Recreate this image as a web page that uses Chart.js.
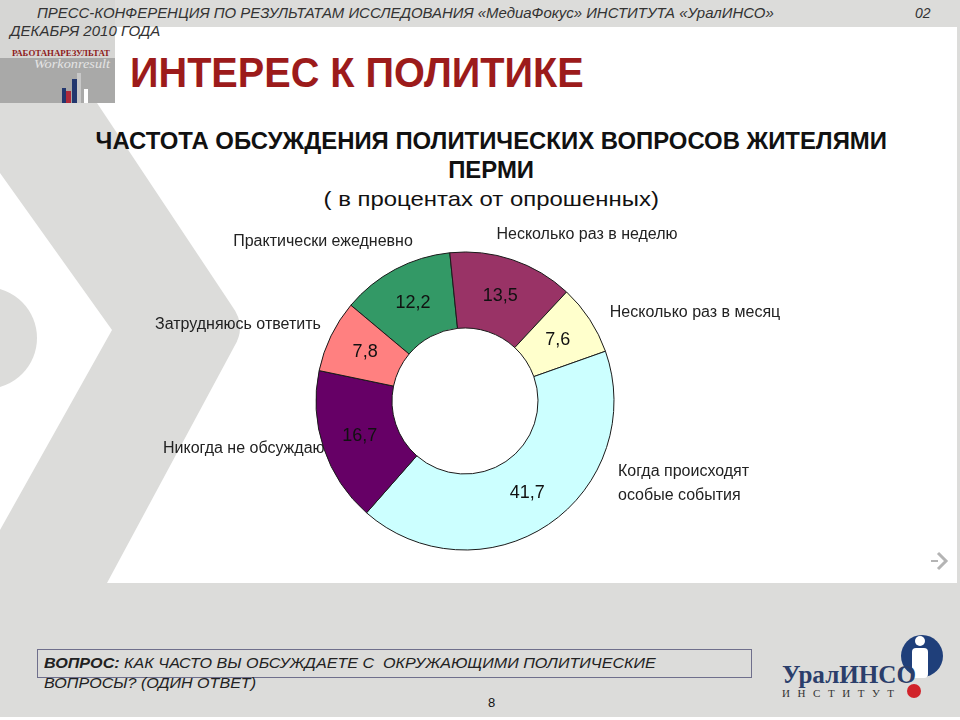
<!DOCTYPE html>
<html lang="ru">
<head>
<meta charset="utf-8">
<title>Интерес к политике</title>
<script src="https://cdn.jsdelivr.net/npm/chart.js@4/dist/chart.umd.min.js"></script>
<style>
  html, body { margin: 0; padding: 0; }
  body { width: 960px; height: 720px; position: relative; overflow: hidden; background: #fff;
         font-family: "Liberation Sans", Arial, sans-serif; color: #222; }
  .bg { position: absolute; left: 0; top: 0; }
  .abs { position: absolute; white-space: nowrap; line-height: 1; }
  .fit { display: inline-block; transform-origin: left center; }
  .mid { left: 0; width: 982px; text-align: center; }
  .mid .fit { transform-origin: center center; }
  #chartBox { position: absolute; left: 140px; top: 215px; width: 660px; height: 355px; }
  #question { position: absolute; left: 37px; top: 649px; width: 713px; height: 27px; border: 1px solid #6f6f8c; }
</style>
</head>
<body>

<svg class="bg" width="960" height="720" viewBox="0 0 960 720">
  <rect width="960" height="720" fill="#dcdcda"/>
  <rect x="0" y="27" width="957" height="556" fill="#fff"/>
  <!-- серый шеврон слева -->
  <path d="M0,103 L97,103 L232,306 Q247,326 234,347 L107,583 L0,583 L0,530 L112,330 L0,173 Z" fill="#dcdcda"/>
  <circle cx="-14" cy="338" r="51" fill="#dcdcda"/>
  <rect x="0" y="717" width="960" height="3" fill="#fff"/>
  <!-- логотип вверху слева -->
  <rect x="0" y="0" width="115" height="103" fill="#d6d6d4"/>
  <rect x="0" y="58" width="115" height="45" fill="#a9a9a8"/>
  <text x="12" y="56" font-family="Liberation Serif" font-weight="bold" font-size="9" fill="#8e1b1b"
        textLength="98" lengthAdjust="spacingAndGlyphs">РАБОТАНАРЕЗУЛЬТАТ</text>
  <text x="34" y="68" font-family="Liberation Serif" font-style="italic" font-size="12" fill="#e4e4e4"
        textLength="76" lengthAdjust="spacingAndGlyphs">Workonresult</text>
  <rect x="62" y="88" width="4" height="15" fill="#23376e"/>
  <rect x="66" y="91" width="5" height="12" fill="#b02a3a"/>
  <rect x="72" y="79" width="5" height="24" fill="#23376e"/>
  <rect x="77" y="73" width="4" height="30" fill="#c8c8c8"/>
  <rect x="84" y="89" width="4" height="14" fill="#ffffff"/>
  <!-- стрелка справа -->
  <polyline points="938,553 946,561 938,569" fill="none" stroke="#b4b4b4" stroke-width="3"/>
  <line x1="931" y1="561" x2="938" y2="561" stroke="#b4b4b4" stroke-width="2"/>
  <!-- логотип УралИНСО -->
  <circle cx="922" cy="656" r="21" fill="#1f3f7a"/>
  <circle cx="920" cy="641" r="5" fill="#fff"/>
  <rect x="912" y="648" width="16" height="30" rx="4" fill="#fff"/>
  <text x="782" y="683" font-family="Liberation Serif" font-weight="bold" font-size="26" fill="#2b3e6b"
        textLength="134" lengthAdjust="spacingAndGlyphs">УралИНСО</text>
  <text x="782" y="697" font-family="Liberation Serif" font-size="11" fill="#333"
        textLength="112" lengthAdjust="spacing">ИНСТИТУТ</text>
  <circle cx="914" cy="691" r="7" fill="#d1232a"/>
</svg>

<div class="abs" style="left:37px; top:6px; font-size:14px; font-style:italic; color:#333;">
  <span class="fit" id="hdr1">ПРЕСС-КОНФЕРЕНЦИЯ ПО РЕЗУЛЬТАТАМ ИССЛЕДОВАНИЯ «МедиаФокус» ИНСТИТУТА «УралИНСО»</span>
</div>
<div class="abs" style="left:915px; top:6px; font-size:14px; font-style:italic; color:#333;">02</div>
<div class="abs" style="left:10px; top:24px; font-size:14px; font-style:italic; color:#333;">
  <span class="fit" id="hdr2">ДЕКАБРЯ 2010 ГОДА</span>
</div>

<div class="abs" style="left:130px; top:52px; font-size:42px; font-weight:bold; color:#9c1b1b;">
  <span class="fit" id="slideTitle">ИНТЕРЕС К ПОЛИТИКЕ</span>
</div>

<div class="abs mid" style="top:129px; font-size:24px; font-weight:bold; color:#111;">
  <span class="fit" id="chartTitle">ЧАСТОТА ОБСУЖДЕНИЯ ПОЛИТИЧЕСКИХ ВОПРОСОВ ЖИТЕЛЯМИ</span>
</div>
<div class="abs mid" style="top:158px; font-size:24px; font-weight:bold; color:#111;">
  <span class="fit" id="chartTitle2">ПЕРМИ</span>
</div>
<div class="abs mid" style="top:188px; font-size:21px; color:#111;">
  <span class="fit" id="chartSub">( в процентах от опрошенных)</span>
</div>

<div id="chartBox"><canvas id="pieChart" width="660" height="355"></canvas></div>

<div id="question"></div>
<div class="abs" style="left:44px; top:655px; font-size:15px; font-style:italic; color:#222;">
  <span class="fit" id="q1"><b>ВОПРОС:</b> КАК ЧАСТО ВЫ ОБСУЖДАЕТЕ С&nbsp; ОКРУЖАЮЩИМИ ПОЛИТИЧЕСКИЕ</span>
</div>
<div class="abs" style="left:44px; top:675px; font-size:15px; font-style:italic; color:#222;">
  <span class="fit" id="q2">ВОПРОСЫ? (ОДИН ОТВЕТ)</span>
</div>
<div class="abs" style="left:488px; top:696px; font-size:13px; color:#111;">8</div>

<script>
// Данные диаграммы (в процентах от опрошенных)
const categories = [
    'Практически ежедневно',
    'Несколько раз в неделю',
    'Несколько раз в месяц',
    ['Когда происходят', 'особые события'],
    'Никогда не обсуждаю',
    'Затрудняюсь ответить'
];
const shares = [12.2, 13.5, 7.6, 41.7, 16.7, 7.8];
const sliceColors = ['#339966', '#993366', '#ffffcc', '#ccffff', '#660066', '#ff8080'];

// где стоят подписи категорий относительно центра кольца
const namePlacement = [
    { dx: -142, dy: -159, align: 'center' },
    { dx: 122, dy: -166, align: 'center' },
    { dx: 230, dy: -88, align: 'center' },
    { dx: 153, dy: 71, align: 'left' },
    { dx: -302, dy: 48, align: 'left' },
    { dx: -310, dy: -76, align: 'left' }
];

// подписи: названия рисуем до колец (кольцо перекрывает хвост "обсуждаю"), числа после
const sliceText = {
    id: 'sliceText',
    beforeDatasetsDraw(chart) {
        const ctx = chart.ctx;
        const arcs = chart.getDatasetMeta(0).data;
        ctx.save();
        ctx.font = '16px "Liberation Sans", Arial, sans-serif';
        ctx.fillStyle = '#222';
        ctx.textBaseline = 'middle';
        arcs.forEach((arc, i) => {
            const p = namePlacement[i];
            const lines = [].concat(chart.data.labels[i]);
            ctx.textAlign = p.align;
            lines.forEach((line, j) => ctx.fillText(line, arc.x + p.dx, arc.y + p.dy + j * 24));
        });
        ctx.restore();
    },
    afterDatasetsDraw(chart) {
        const ctx = chart.ctx;
        const ds = chart.data.datasets[0];
        ctx.save();
        ctx.font = '18px "Liberation Sans", Arial, sans-serif';
        ctx.fillStyle = '#111';
        ctx.textAlign = 'center';
        ctx.textBaseline = 'middle';
        chart.getDatasetMeta(0).data.forEach((arc, i) => {
            const pos = arc.tooltipPosition();
            ctx.fillText(ds.data[i].toFixed(1).replace('.', ','), pos.x, pos.y);
        });
        ctx.restore();
    }
};

new Chart(document.getElementById('pieChart'), {
    type: 'doughnut',
    data: {
        labels: categories,
        datasets: [{
            data: shares,
            backgroundColor: sliceColors,
            borderColor: '#1a1a1a',
            borderWidth: 1
        }]
    },
    options: {
        responsive: false,
        animation: false,
        rotation: -50,
        cutout: '49%',
        radius: 149,
        layout: { padding: { left: 0, right: 10, top: 17, bottom: 0 } },
        plugins: { legend: { display: false }, tooltip: { enabled: false } }
    },
    plugins: [sliceText]
});

// подгоняем ширину строк под макет слайда
function fitText(id, width) {
    const el = document.getElementById(id);
    const k = width / el.offsetWidth;
    el.style.transform = 'scaleX(' + k.toFixed(3) + ')';
    return k;
}
fitText('hdr1', 736);
fitText('hdr2', 150);
fitText('slideTitle', 453);
const titleScale = fitText('chartTitle', 792);
document.getElementById('chartTitle2').style.transform = 'scaleX(' + titleScale.toFixed(3) + ')';
fitText('chartSub', 335);
fitText('q1', 612);
fitText('q2', 212);
</script>
</body>
</html>
